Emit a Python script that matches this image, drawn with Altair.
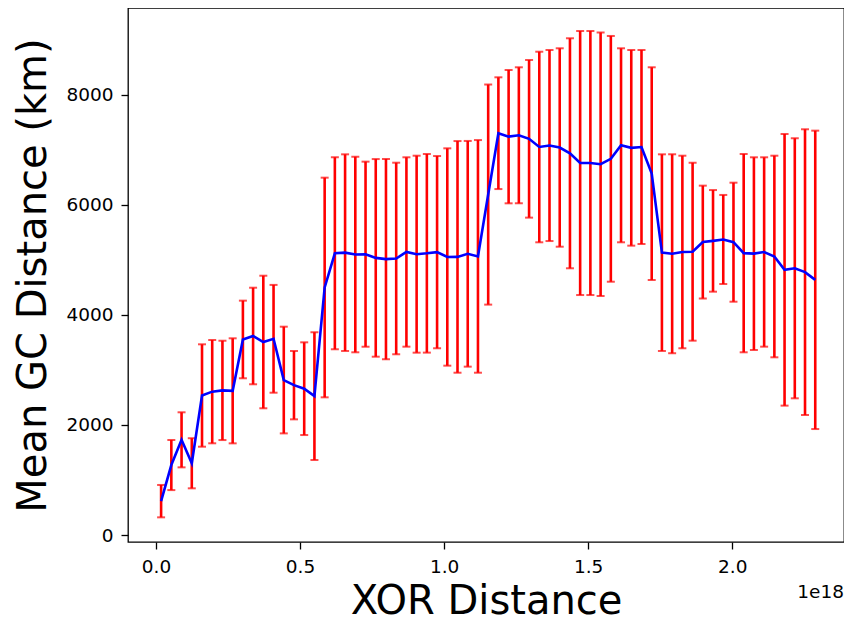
import altair as alt
import pandas as pd

# bin centers of XOR distance, in units of 1e18
xor_e18 = [0.0177, 0.0532, 0.0887, 0.1242, 0.1597, 0.1951, 0.2306, 0.2661, 0.3016, 0.3370,
           0.3725, 0.4080, 0.4435, 0.4789, 0.5144, 0.5499, 0.5854, 0.6208, 0.6563, 0.6918,
           0.7273, 0.7627, 0.7982, 0.8337, 0.8692, 0.9046, 0.9401, 0.9756, 1.0111, 1.0465,
           1.0820, 1.1175, 1.1530, 1.1884, 1.2239, 1.2594, 1.2949, 1.3303, 1.3658, 1.4013,
           1.4368, 1.4722, 1.5077, 1.5432, 1.5787, 1.6141, 1.6496, 1.6851, 1.7206, 1.7560,
           1.7915, 1.8270, 1.8625, 1.8979, 1.9334, 1.9689, 2.0044, 2.0398, 2.0753, 2.1108,
           2.1463, 2.1817, 2.2172, 2.2527, 2.2882]

mean_km = [615, 1271, 1729, 1303, 2534, 2604, 2627, 2619, 3552, 3615,
           3506, 3564, 2815, 2722, 2658, 2523, 4496, 5118, 5129, 5095,
           5101, 5034, 5011, 5023, 5141, 5101, 5117, 5138, 5050, 5052,
           5108, 5061, 6184, 7299, 7236, 7261, 7197, 7048, 7075, 7039,
           6934, 6757, 6757, 6735, 6833, 7079, 7033, 7048, 6564, 5129,
           5109, 5141, 5146, 5321, 5343, 5368, 5319, 5120, 5111, 5141,
           5059, 4817, 4845, 4775, 4635]

std_km = [294, 455, 500, 455, 930, 938, 902, 954, 705, 877,
          1204, 979, 969, 621, 842, 1160, 1995, 1744, 1786, 1776,
          1681, 1795, 1820, 1740, 1720, 1789, 1804, 1746, 1974, 2104,
          2050, 2113, 1999, 1015, 1211, 1235, 1432, 1731, 1735, 1802,
          2089, 2398, 2398, 2393, 2232, 1762, 1777, 1762, 1932, 1786,
          1807, 1749, 1616, 1025, 923, 809, 1081, 1801, 1750, 1720,
          1831, 2467, 2362, 2595, 2710]

x_ticks = [0.0, 0.5, 1.0, 1.5, 2.0]
y_ticks = [0, 2000, 4000, 6000, 8000]

df = pd.DataFrame({"x": xor_e18, "mean": mean_km, "std": std_km})
df["lo"] = df["mean"] - df["std"]
df["hi"] = df["mean"] + df["std"]

FONT = "DejaVu Sans"
W, H = 716, 534

xscale = alt.Scale(domain=[-0.0972, 2.388], nice=False, zero=False)
yscale = alt.Scale(domain=[-127, 9573], nice=False, zero=False)

xaxis = alt.Axis(values=x_ticks, format=".1f", title="XOR Distance", grid=False,
                 domain=False, tickSize=7, tickWidth=1.3, tickColor="black",
                 labelFont=FONT, labelFontSize=18.5, labelColor="black",
                 labelBaseline="alphabetic", labelPadding=23.5,
                 titleFont=FONT, titleFontSize=40, titleFontWeight="normal",
                 titleColor="black", titleBaseline="alphabetic", titleY=71)
yaxis = alt.Axis(values=y_ticks, format="d", title="Mean GC Distance (km)", grid=False,
                 domain=False, tickSize=7, tickWidth=1.3, tickColor="black",
                 labelFont=FONT, labelFontSize=18.5, labelColor="black",
                 labelPadding=8,
                 titleFont=FONT, titleFontSize=40, titleFontWeight="normal",
                 titleColor="black", titleBaseline="alphabetic", titleX=-83)

base = alt.Chart(df)

bars = base.mark_rule(color="#ff0000", strokeWidth=2.6).encode(
    x=alt.X("x:Q", scale=xscale, axis=xaxis),
    y=alt.Y("lo:Q", scale=yscale, axis=yaxis),
    y2="hi:Q",
)
cap_lo = base.mark_tick(color="#ff0000", orient="horizontal", size=8, thickness=2).encode(
    x=alt.X("x:Q", scale=xscale), y=alt.Y("lo:Q", scale=yscale)
)
cap_hi = base.mark_tick(color="#ff0000", orient="horizontal", size=8, thickness=2).encode(
    x=alt.X("x:Q", scale=xscale), y=alt.Y("hi:Q", scale=yscale)
)
line = base.mark_line(color="#0000ff", strokeWidth=2.6).encode(
    x=alt.X("x:Q", scale=xscale), y=alt.Y("mean:Q", scale=yscale)
)
offset = alt.Chart(pd.DataFrame({"t": ["1e18"]})).mark_text(
    font=FONT, fontSize=18.5, color="black", align="right", baseline="alphabetic"
).encode(text="t:N", x=alt.value(W), y=alt.value(590))

chart = alt.layer(bars, cap_lo, cap_hi, line, offset).properties(
    width=W, height=H,
    autosize=alt.AutoSizeParams(type="none"),
    padding={"left": 120, "top": 0, "right": 0, "bottom": 80},
).configure_view(stroke="black", strokeWidth=1.3)

chart.save("out.html", embed_options={"renderer": "svg", "actions": False})
